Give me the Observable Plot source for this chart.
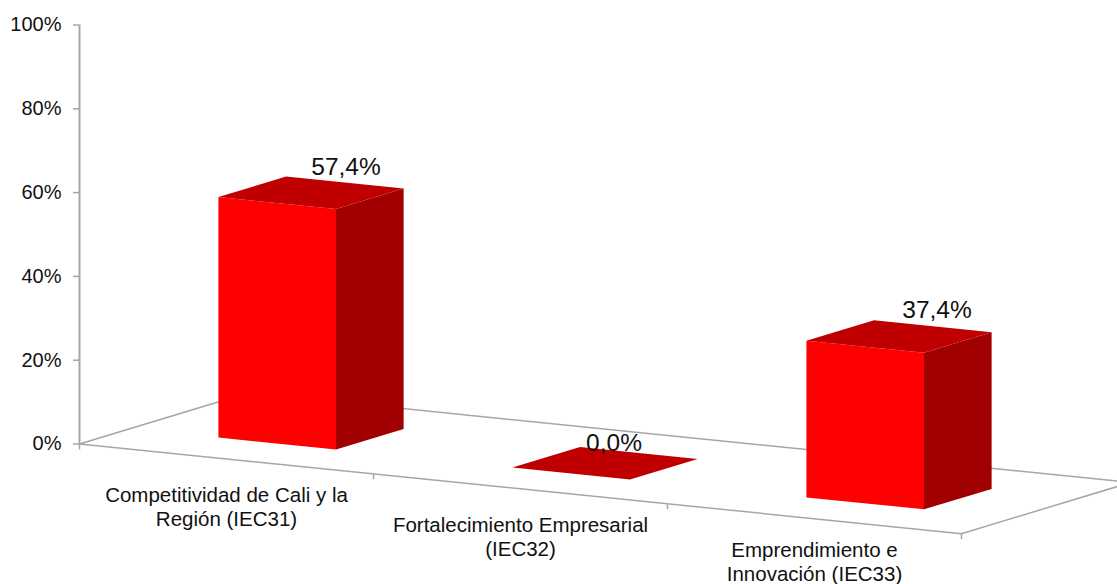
<!DOCTYPE html>
<html>
<head>
<meta charset="utf-8">
<script src="https://cdn.jsdelivr.net/npm/d3@7"></script>
<script src="https://cdn.jsdelivr.net/npm/@observablehq/plot@0.6"></script>
<style>
html,body{margin:0;padding:0;background:#fff}
svg{display:block}
</style>
</head>
<body>
<div id="chart"></div>
<script>
// Data
const categories = ["Competitividad de Cali y la\nRegión (IEC31)", "Fortalecimiento Empresarial\n(IEC32)", "Emprendimiento e\nInnovación (IEC33)"];
const shares = [57.4, 0.0, 37.4];
const valueLabels = ["57,4%", "0,0%", "37,4%"];
const yTicks = [0, 20, 40, 60, 80, 100];

// Oblique projection of the 3-D chart (category units, depth units, percent)
const depthX = 0.575, depthY = 12.22, skewY = 7.136;
const barFrom = 0.3, barTo = 0.7;
const project = (a, b, v) => ({x: a + b * depthX, y: v - a * skewY + b * depthY});
const n = categories.length;

const faces = {top: [], side: [], front: []};
shares.forEach((v, i) => {
  const a0 = i + barFrom, a1 = i + barTo, b0 = barFrom, b1 = barTo;
  const add = (k, pts) => pts.forEach(p => faces[k].push({bar: i, ...project(...p)}));
  add("front", [[a0, b0, 0], [a1, b0, 0], [a1, b0, v], [a0, b0, v]]);
  add("side", [[a1, b0, 0], [a1, b1, 0], [a1, b1, v], [a1, b0, v]]);
  add("top", [[a0, b0, v], [a1, b0, v], [a1, b1, v], [a0, b1, v]]);
});

const floor = [[0, 1, 0], [0, 0, 0], [n, 0, 0], [n, 1, 0], [0, 1, 0]].map(p => project(...p));
const floorTicks = d3.range(n + 1).map(i => {
  const p = project(i, 0, 0);
  return {x: p.x, y1: p.y, y2: p.y - 1.3};
});

const grey = "#a6a6a6", ink = "#111";
const labelDy = [25.5, 25.5, 21];
const valueNudge = [{dx: 35, dy: -18}, {dx: 9, dy: -12}, {dx: 38, dy: -18}];

const chart = Plot.plot({
  width: 1117,
  height: 584,
  marginLeft: 79,
  marginRight: 0,
  marginTop: 24.5,
  marginBottom: 140.5,
  style: {fontFamily: "'Liberation Sans', Arial, sans-serif", background: "#fff", color: ink},
  x: {domain: [0, (1117 - 79) / 294], range: [79, 1117], axis: null},
  y: {domain: [0, 100], range: [443.5, 24.5], axis: null},
  marks: [
    Plot.line(floor, {x: "x", y: "y", stroke: grey, strokeWidth: 1.5}),
    Plot.link(floorTicks, {x1: "x", x2: "x", y1: "y1", y2: "y2", stroke: grey, strokeWidth: 1.5}),
    Plot.ruleX([0], {y1: 0, y2: 100, stroke: grey, strokeWidth: 2}),
    Plot.axisY({
      ticks: yTicks,
      tickFormat: d => d + "%",
      tickSize: 6,
      tickPadding: 12,
      stroke: grey,
      strokeWidth: 1.5,
      fill: ink,
      fontSize: 20,
      label: null
    }),
    Plot.line(faces.front, {x: "x", y: "y", z: "bar", fill: "#ff0000", stroke: "none"}),
    Plot.line(faces.side, {x: "x", y: "y", z: "bar", fill: "#a00000", stroke: "none"}),
    Plot.line(faces.top, {x: "x", y: "y", z: "bar", fill: "#c00000", stroke: "none"}),
    ...categories.map((c, i) => Plot.text([c], {
      x: project(i + 0.5, 0, 0).x,
      y: project(i + 0.5, 0, 0).y,
      text: d => d,
      dy: labelDy[i],
      lineAnchor: "top",
      lineHeight: 1.19,
      fontSize: 20.5,
      fill: ink
    })),
    ...shares.map((v, i) => Plot.text([valueLabels[i]], {
      x: project(i + 0.5, 0.5, v).x,
      y: project(i + 0.5, 0.5, v).y,
      text: d => d,
      dx: valueNudge[i].dx,
      dy: valueNudge[i].dy,
      lineAnchor: "bottom",
      fontSize: 24.5,
      fill: ink
    }))
  ]
});
document.getElementById("chart").appendChild(chart);
</script>
</body>
</html>
